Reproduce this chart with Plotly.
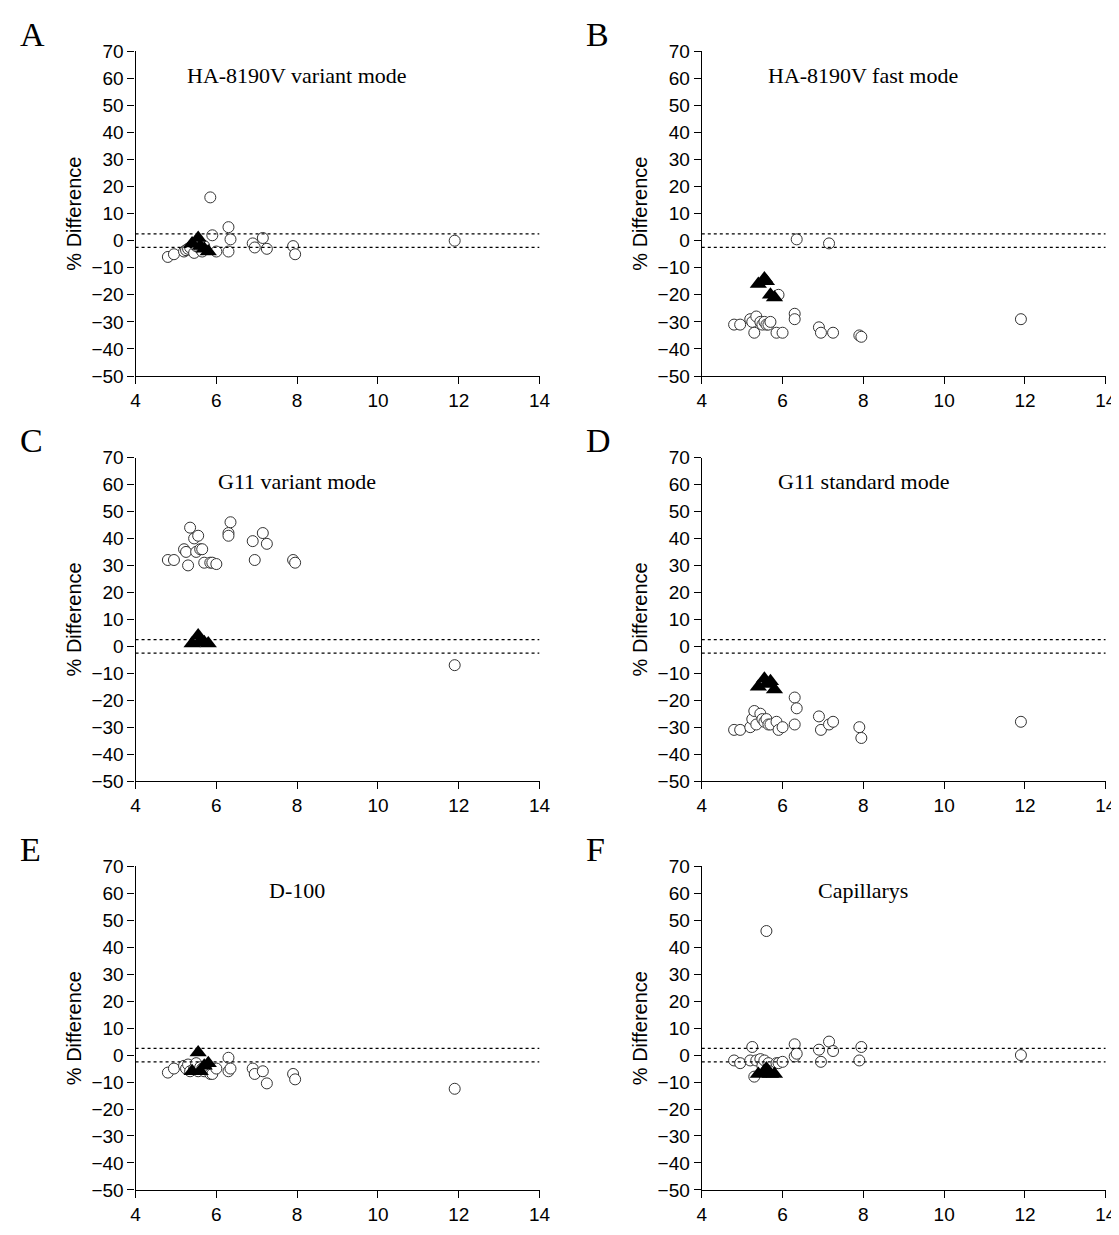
import plotly.graph_objects as go
from plotly.subplots import make_subplots

x = [4.8, 4.95, 5.2, 5.25, 5.3, 5.35, 5.45, 5.5, 5.55, 5.6, 5.65, 5.7, 5.85,
     5.9, 6.0, 6.3, 6.3, 6.35, 6.9, 6.95, 7.15, 7.25, 7.9, 7.95, 11.9]
xTri = [5.4, 5.55, 5.6, 5.7, 5.8]

circles = {
    "A": [-6, -5, -4, -3.5, -3, -2.5, -4.5, -2, -1, -3, -4, -2, 16, 2, -4, 5, -4, 0.5, -1, -2.5, 1, -3, -2, -5, 0],
    "B": [-31, -31, -29, -30, -34, -28, -30, -31, -30, -31, -31, -30, -34, -20, -34, -27, -29, 0.5, -32, -34, -1, -34, -35, -35.5, -29],
    "C": [32, 32, 36, 35, 30, 44, 40, 35, 41, 36, 36, 31, 31, 31, 30.5, 42, 41, 46, 39, 32, 42, 38, 32, 31, -7],
    "D": [-31, -31, -30, -27, -24, -29, -25, -27, -28, -27, -29, -29, -28, -31, -30, -19, -29, -23, -26, -31, -29, -28, -30, -34, -28],
    "E": [-6.5, -5, -4, -5, -3.5, -6, -5, -3, -6, -4.5, -5, -6, -7, -7, -5, -6, -1, -5, -5, -7, -6, -10.5, -7, -9, -12.5],
    "F": [-2, -3, -2, 3, -8, -2, -1.5, -4, -2, 46, -3, -6, -3, -3, -2.5, 4, -0.5, 0.5, 2, -2.5, 5, 1.5, -2, 3, 0],
}
triangles = {
    "A": [-1, 1, -2, -3, -4],
    "B": [-16, -14, -15, -20, -21],
    "C": [1, 4, 2, 1.5, 1],
    "D": [-15, -12, -14, -13, -16],
    "E": [-6, 1, -6, -4, -3],
    "F": [-7, -6, -5, -7, -7],
}
titles = {"A": "HA-8190V variant mode", "B": "HA-8190V fast mode",
          "C": "G11 variant mode", "D": "G11 standard mode",
          "E": "D-100", "F": "Capillarys"}
limits = [2.5, -2.5]

fig = make_subplots(rows=3, cols=2)
xdom = [[0.114, 0.475], [0.620, 0.981]]
ydom = [[0.702, 0.965], [0.374, 0.636], [0.043, 0.305]]
serif = "Liberation Serif"

for i, key in enumerate("ABCDEF"):
    r, c = i // 2 + 1, i % 2 + 1
    fig.add_trace(go.Scatter(x=x, y=circles[key], mode="markers",
                             marker=dict(symbol="circle", size=11, color="white",
                                         line=dict(color="#333", width=1))), row=r, col=c)
    fig.add_trace(go.Scatter(x=xTri, y=triangles[key], mode="markers",
                             marker=dict(symbol="triangle-up", size=15, color="black")), row=r, col=c)
    for lim in limits:
        fig.add_trace(go.Scatter(x=[4, 14], y=[lim, lim], mode="lines",
                                 line=dict(color="black", width=1.3, dash="dot")), row=r, col=c)
    fig.update_xaxes(domain=xdom[c - 1], range=[4, 14], dtick=2, row=r, col=c)
    fig.update_yaxes(domain=ydom[r - 1], range=[-50, 70], dtick=10, row=r, col=c,
                     title=dict(text="% Difference", font=dict(size=20, family="Liberation Sans", color="black"),
                                standoff=4))
    xref = "x" if i == 0 else "x%d" % (i + 1)
    yref = "y" if i == 0 else "y%d" % (i + 1)
    fig.add_annotation(x=8, y=61, xref=xref, yref=yref, text=titles[key], showarrow=False,
                       font=dict(size=22, family=serif, color="black"))
    fig.add_annotation(x=xdom[c - 1][0] - 0.105, y=ydom[r - 1][1] + 0.03, xref="paper", yref="paper",
                       text=key, showarrow=False, xanchor="left", yanchor="top",
                       font=dict(size=34, family=serif, color="black"))

fig.update_xaxes(showline=True, linecolor="black", linewidth=1.3, ticks="outside", ticklen=7,
                 tickcolor="black", showgrid=False, zeroline=False, automargin=False,
                 tickfont=dict(size=19, family="Liberation Sans", color="black"))
fig.update_yaxes(showline=True, linecolor="black", linewidth=1.3, ticks="outside", ticklen=7,
                 tickcolor="black", showgrid=False, zeroline=False, automargin=False,
                 tickfont=dict(size=19, family="Liberation Sans", color="black"))
fig.update_layout(width=1119, height=1235, showlegend=False, plot_bgcolor="white",
                  paper_bgcolor="white", margin=dict(l=0, r=0, t=0, b=0))
fig.write_html("out.html")
